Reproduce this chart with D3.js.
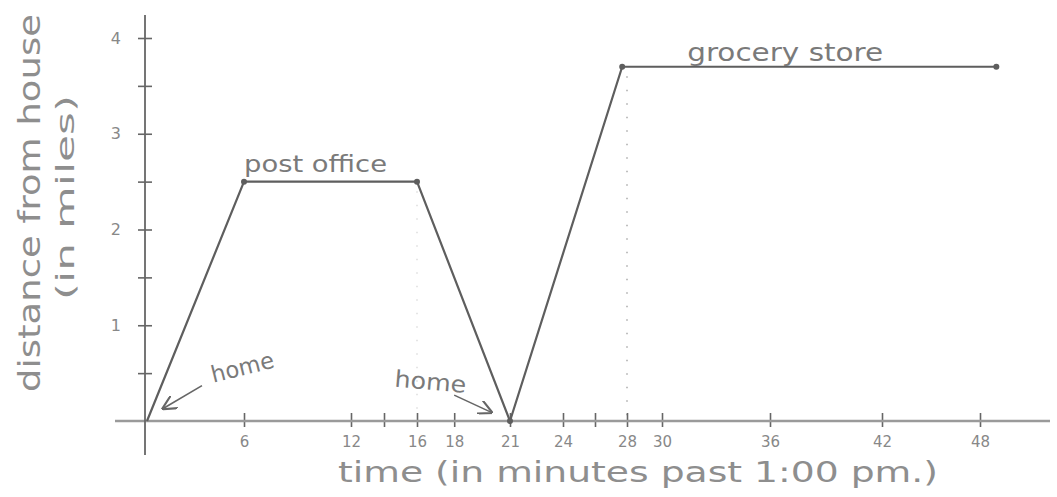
<!DOCTYPE html>
<html>
<head>
<meta charset="utf-8">
<script src="https://cdn.jsdelivr.net/npm/d3@7"></script>
<style>
  body { margin: 0; background: #fff; }
  text { font-family: "DejaVu Sans", sans-serif; }
</style>
</head>
<body>
<svg id="chart"></svg>
<script>
// trip data (minutes past 1:00 pm, miles from house)
const times = [0, 6, 16, 21, 27.7, 49];
const distances = [0, 2.5, 2.5, 0, 3.7, 3.7];

const xTicks = [6, 12, 14, 16, 18, 21, 24, 26, 28, 30, 36, 42, 48];
const xTickLabels = ['6', '12', '', '16', '18', '21', '24', '', '28', '30', '36', '42', '48'];
const yTicks = [0.5, 1, 1.5, 2, 2.5, 3, 3.5, 4];
const yTickLabels = ['', '1', '', '2', '', '3', '', '4'];

const notes = [
  { text: 'post office', t: 6.0, d: 2.6, rot: 0, size: 23, len: 143 },
  { text: 'grocery store', t: 31.4, d: 3.76, rot: 0, size: 24, len: 196 },
  { text: 'home', t: 4.1, d: 0.4, rot: -14, size: 23, len: 64 },
  { text: 'home', t: 14.6, d: 0.36, rot: 5, size: 23, len: 72 }
];
const arrows = [
  { from: [3.4, 0.37], to: [1.0, 0.13] },
  { from: [18.0, 0.27], to: [20.0, 0.09] }
];
const guides = [16, 28]; // dotted drop lines

const width = 1057, height = 497;
const svg = d3.select('#chart').attr('width', width).attr('height', height);

// hand-drawn axis: tick spacing is not quite even
const x = d3.scaleLinear()
  .domain([0, 6, 12, 16, 21, 24, 28, 30, 36, 42, 48])
  .range([147, 244, 351, 417, 510, 563, 627, 662, 770, 882, 980]);
const y = d3.scaleLinear().domain([0, 4]).range([421, 38]);

const pencil = '#5e5e5e';
const faint = '#8e8e8e';

// dotted guide lines
svg.append('g')
  .selectAll('line')
  .data(guides)
  .join('line')
  .attr('x1', d => x(d))
  .attr('x2', d => x(d))
  .attr('y1', (d, i) => i === 0 ? y(2.4) : y(3.6))
  .attr('y2', y(0.05))
  .attr('stroke', (d, i) => i === 0 ? '#ddd' : '#aaa')
  .attr('stroke-width', 1.5)
  .attr('stroke-dasharray', '1.5 12');

// x axis
const xAxis = svg.append('g')
  .attr('transform', `translate(0,${y(0)})`)
  .call(d3.axisBottom(x).tickValues(xTicks)
    .tickFormat((d, i) => xTickLabels[i]).tickSize(0).tickPadding(15));
xAxis.select('.domain').remove();
xAxis.append('line')
  .attr('x1', 115).attr('x2', 1050)
  .attr('stroke', '#9a9a9a').attr('stroke-width', 2.5);
xAxis.selectAll('.tick').append('line')
  .attr('y1', -8).attr('y2', 6)
  .attr('stroke', '#666').attr('stroke-width', 1.6);
xAxis.selectAll('.tick text')
  .attr('fill', '#888')
  .attr('font-size', 15);

// y axis
const yAxis = svg.append('g')
  .attr('transform', `translate(${x(0) - 2},0)`)
  .call(d3.axisLeft(y).tickValues(yTicks)
    .tickFormat((d, i) => yTickLabels[i]).tickSize(0).tickPadding(24));
yAxis.select('.domain').remove();
yAxis.append('line')
  .attr('y1', 15).attr('y2', 455)
  .attr('stroke', '#666').attr('stroke-width', 1.8);
yAxis.selectAll('.tick').append('line')
  .attr('x1', -7).attr('x2', 7)
  .attr('stroke', '#666').attr('stroke-width', 1.6);
yAxis.selectAll('.tick text')
  .attr('fill', '#888')
  .attr('font-size', 16);

// trip line
const pts = times.map((t, i) => [t, distances[i]]);
svg.append('path')
  .datum(pts)
  .attr('fill', 'none')
  .attr('stroke', pencil)
  .attr('stroke-width', 2.2)
  .attr('stroke-linejoin', 'round')
  .attr('d', d3.line().x(d => x(d[0])).y(d => y(d[1])));

svg.append('g')
  .selectAll('circle')
  .data(pts.slice(1))
  .join('circle')
  .attr('cx', d => x(d[0]))
  .attr('cy', d => y(d[1]))
  .attr('r', 3)
  .attr('fill', pencil);

// annotations
svg.append('g')
  .selectAll('text')
  .data(notes)
  .join('text')
  .attr('transform', d => `translate(${x(d.t)},${y(d.d)}) rotate(${d.rot})`)
  .attr('font-size', d => d.size)
  .attr('textLength', d => d.len)
  .attr('lengthAdjust', 'spacingAndGlyphs')
  .attr('fill', '#7a7a7a')
  .text(d => d.text);

svg.append('defs').append('marker')
  .attr('id', 'head')
  .attr('viewBox', '0 0 10 10')
  .attr('refX', 9).attr('refY', 5)
  .attr('markerWidth', 9).attr('markerHeight', 9)
  .attr('orient', 'auto')
  .append('path')
  .attr('d', 'M0,0 L10,5 L0,10')
  .attr('fill', 'none')
  .attr('stroke', '#666')
  .attr('stroke-width', 1.5);

svg.append('g')
  .selectAll('line')
  .data(arrows)
  .join('line')
  .attr('x1', d => x(d.from[0])).attr('y1', d => y(d.from[1]))
  .attr('x2', d => x(d.to[0])).attr('y2', d => y(d.to[1]))
  .attr('stroke', '#666')
  .attr('stroke-width', 1.6)
  .attr('marker-end', 'url(#head)');

// axis titles
svg.append('text')
  .attr('x', 338).attr('y', 482)
  .attr('font-size', 28)
  .attr('fill', faint)
  .attr('textLength', 600)
  .attr('lengthAdjust', 'spacingAndGlyphs')
  .text('time (in minutes past 1:00 pm.)');

svg.append('text')
  .attr('transform', 'translate(40,392) rotate(-90)')
  .attr('font-size', 30)
  .attr('fill', faint)
  .attr('textLength', 378)
  .attr('lengthAdjust', 'spacingAndGlyphs')
  .text('distance from house');

svg.append('text')
  .attr('transform', 'translate(74,300) rotate(-90)')
  .attr('font-size', 24)
  .attr('fill', faint)
  .attr('textLength', 205)
  .attr('lengthAdjust', 'spacingAndGlyphs')
  .text('(in miles)');
</script>
</body>
</html>
